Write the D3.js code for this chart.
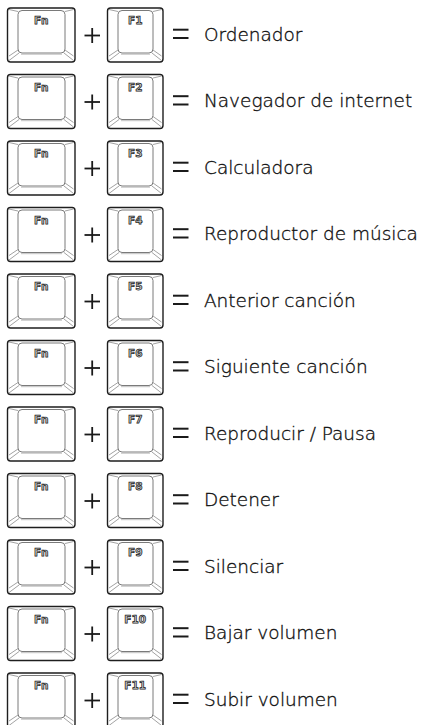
<!DOCTYPE html>
<html><head><meta charset="utf-8">
<script src="https://cdn.jsdelivr.net/npm/d3@7"></script>
<style>html,body{margin:0;padding:0;background:#fff;}svg{display:block;}</style>
</head><body>
<script>
const modifierKey = "Fn";
const functionKeys = ["F1","F2","F3","F4","F5","F6","F7","F8","F9","F10","F11"];
const actions = ["Ordenador","Navegador de internet","Calculadora","Reproductor de música","Anterior canción","Siguiente canción","Reproducir / Pausa","Detener","Silenciar","Bajar volumen","Subir volumen"];

const W = 422, H = 725;
const svg = d3.select("body").append("svg").attr("width", W).attr("height", H);

const rowStep = 66.5, keyH = 54;
const y = d3.scalePoint().domain(functionKeys).range([8, 8 + rowStep * (functionKeys.length - 1)]);

// calibrate label font size so the longest label spans the reference width
const labelFont = "'DejaVu Sans', sans-serif";
const probe = svg.append("text").attr("font-family", labelFont).attr("font-weight", 300).attr("font-size", 100).text("Reproductor de música");
const probeW = probe.node().getComputedTextLength();
probe.remove();
const labelSize = Math.min(19, 100 * 214 / probeW);

function drawKey(g, x0, w, label) {
  const k = g.append("g").attr("transform", `translate(${x0},0)`);
  const inL = 10.5, inR = 10, inT = 2.5, inB = 9;
  const h = keyH;
  k.append("rect").attr("x", 0).attr("y", 0).attr("width", w).attr("height", h)
    .attr("rx", 3).attr("fill", "#fff").attr("stroke", "#1e1e1e").attr("stroke-width", 1.4);
  const diag = [
    [1.5, 1.5, inL, inT + 1],
    [w - 1.5, 1.5, w - inR, inT + 1],
    [1.5, h - 1.5, inL + 1, h - inB],
    [w - 1.5, h - 1.5, w - inR - 1, h - inB],
    [1.5, h - 6, inL, h - inB - 3],
    [w - 1.5, h - 6, w - inR, h - inB - 3]
  ];
  k.selectAll("line.d").data(diag).join("line").attr("class", "d")
    .attr("x1", d => d[0]).attr("y1", d => d[1]).attr("x2", d => d[2]).attr("y2", d => d[3])
    .attr("stroke", "#8a8a8a").attr("stroke-width", 0.8);
  k.append("rect").attr("x", inL).attr("y", inT).attr("width", w - inL - inR).attr("height", h - inT - inB)
    .attr("rx", 4).attr("fill", "#fff").attr("stroke", "#7a7a7a").attr("stroke-width", 1);
  k.append("line").attr("x1", inL + 3).attr("x2", w - inR - 3).attr("y1", h - inB + 1.2).attr("y2", h - inB + 1.2)
    .attr("stroke", "#b0b0b0").attr("stroke-width", 0.8);
  k.append("text").attr("x", w / 2).attr("y", 16).attr("text-anchor", "middle")
    .attr("font-family", "'DejaVu Sans'").attr("font-weight", "bold").attr("font-size", 10.5)
    .attr("fill", "#d0d0d0").attr("stroke", "#1a1a1a").attr("stroke-width", 0.75)
    .attr("paint-order", "fill").text(label);
}

const rows = svg.selectAll("g.row").data(functionKeys).join("g").attr("class", "row")
  .attr("transform", d => `translate(0,${y(d)})`);

rows.each(function(d, i) {
  const g = d3.select(this);
  drawKey(g, 7.5, 67.5, modifierKey);
  // plus
  g.append("line").attr("x1", 84.5).attr("x2", 100).attr("y1", 27.5).attr("y2", 27.5).attr("stroke", "#1a1a1a").attr("stroke-width", 1.8);
  g.append("line").attr("x1", 92.2).attr("x2", 92.2).attr("y1", 20).attr("y2", 35).attr("stroke", "#1a1a1a").attr("stroke-width", 1.8);
  drawKey(g, 107.5, 55.5, d);
  // equals
  g.append("line").attr("x1", 173).attr("x2", 188.5).attr("y1", 21.7).attr("y2", 21.7).attr("stroke", "#1a1a1a").attr("stroke-width", 2);
  g.append("line").attr("x1", 173).attr("x2", 188.5).attr("y1", 30).attr("y2", 30).attr("stroke", "#1a1a1a").attr("stroke-width", 2);
  g.append("text").attr("x", 204).attr("y", 32.5)
    .attr("font-family", labelFont).attr("font-weight", 300).attr("font-size", labelSize)
    .attr("fill", "#111").attr("stroke", "#111").attr("stroke-width", 0.35).text(actions[i]);
});
</script>
</body></html>
